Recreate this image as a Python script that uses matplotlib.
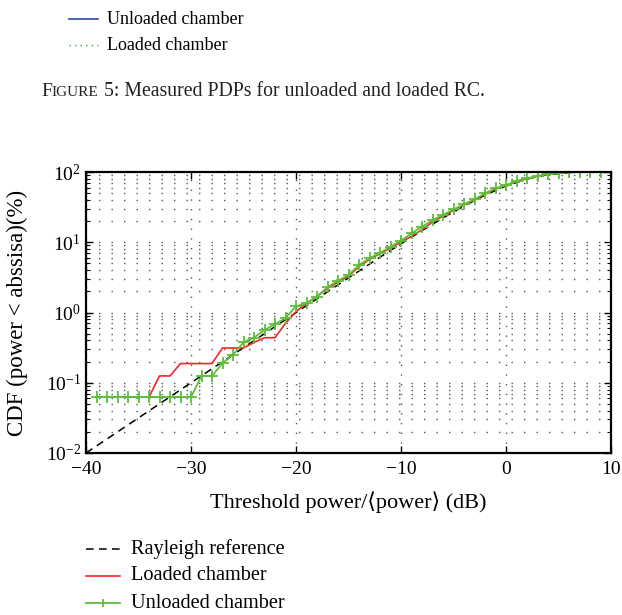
import numpy as np
import matplotlib
matplotlib.use('Agg')
import matplotlib.pyplot as plt
from matplotlib.lines import Line2D
from matplotlib.ticker import LogLocator, NullFormatter

plt.rcParams['font.family'] = ['Liberation Serif', 'DejaVu Serif']
plt.rcParams['mathtext.fontset'] = 'stix'

# threshold power (dB), 1 dB steps for the measured curves
x_meas = list(range(-39, 10))

# measured CDF (%)
unloaded = [0.0625] * 10 + [
    0.125, 0.125, 0.19, 0.25, 0.375, 0.44, 0.56, 0.68, 0.83, 1.23,
    1.35, 1.68, 2.3, 2.83, 3.41, 4.73, 5.9, 7.08, 8.6, 10.5,
    13.4, 16.6, 20.7, 24.4, 29.4, 34.7, 40.8, 49.7, 58.6, 65.3,
    74.5, 81.3, 87.7, 93.7, 97.7, 100, 100, 100, 100]
loaded = [0.0625] * 6 + [
    0.125, 0.125, 0.1875, 0.1875, 0.1875, 0.1875, 0.3125, 0.3125, 0.3125, 0.375,
    0.4375, 0.4375, 0.70, 1.03, 1.35, 1.7, 2.2, 2.7, 3.3, 4.5,
    5.7, 6.9, 8.3, 10.0, 12.2, 15.0, 19.5, 23.5, 28.5, 34.0,
    40.0, 48.5, 57.0, 64.5, 73.0, 80.0, 87.0, 93.0, 97.5, 99.5,
    100, 100, 100]

# Rayleigh reference (%)
x_ray = [-40, -30, -20, -16, -14, -12, -10, -8, -6, -4, -2, 0, 2, 4, 6, 8, 10]
rayleigh = [0.01, 0.0999, 0.995, 2.48, 3.90, 6.12, 9.52, 14.66, 22.2, 32.8,
            46.8, 63.2, 79.5, 91.9, 98.1, 99.8, 99.995]

fig = plt.figure(figsize=(6.22, 6.15), dpi=100)
ax = fig.add_axes([86/622, 1 - 453/615, (611-86)/622, (453-172)/615])

ax.plot(x_ray, rayleigh, color='black', lw=1.1, dashes=(5, 3.5))
ax.plot(x_meas, loaded, color='#ff2020', lw=1.2)
ax.plot(x_meas, unloaded, color='#5cbf3a', lw=1.3, marker='+', ms=9, mew=1.3)

ax.set_yscale('log')
ax.set_xlim(-40, 10)
ax.set_ylim(1e-2, 1e2)
ax.set_xticks([-40, -30, -20, -10, 0, 10])
ax.yaxis.set_major_locator(LogLocator(base=10))
ax.yaxis.set_minor_locator(LogLocator(base=10, subs=np.arange(2, 10)))
ax.yaxis.set_minor_formatter(NullFormatter())

ax.yaxis.grid(True, which='both', color='#555555', lw=1.0, linestyle=(0, (1, 8)))
ax.xaxis.grid(True, which='major', color='#555555', lw=1.0, linestyle=(0, (1, 6)))

ax.tick_params(which='both', direction='in', top=True, right=True, labelsize=14)
ax.tick_params(which='major', length=5, width=1)
ax.tick_params(axis='x', pad=6)
ax.tick_params(which='minor', length=3, width=0.8)
for s in ax.spines.values():
    s.set_linewidth(1.6)

ax.set_xlabel('Threshold power/\u27e8power\u27e9 (dB)', fontsize=16)
ax.set_ylabel('CDF (power < abssisa)(%)', fontsize=16.5)
ax.xaxis.set_label_coords(0.499, -(502 - 453) / 281)
ax.yaxis.set_label_coords((17 - 86) / 525, 0.5)
ax.xaxis.label.set_va('center')
ax.yaxis.label.set_va('center')

# legend of the previous figure and caption (top of the page)
def legend_row(y, x0, x1, **kw):
    fig.add_artist(Line2D([x0 / 622, x1 / 622], [1 - y / 615, 1 - y / 615], **kw))

top_x0, top_x1, top_tx = 69, 98, 107
legend_row(19, top_x0, top_x1, color='#2b46a8', lw=1.2)
fig.text(top_tx / 622, 1 - 19 / 615, 'Unloaded chamber', fontsize=13, va='center')
legend_row(45, top_x0, top_x1, color='#3aa04a', lw=1.0, linestyle=(0, (1, 3)))
fig.text(top_tx / 622, 1 - 45 / 615, 'Loaded chamber', fontsize=13, va='center')

cap = fig.text(41 / 622, 1 - 92 / 615, 'F', fontsize=14, va='center', color='#222222')
fig.canvas.draw()
bb = cap.get_window_extent()
cap2 = fig.text(bb.x1 / 622, 1 - 92 / 615, 'IGURE', fontsize=11, va='center', color='#222222')
fig.canvas.draw()
bb2 = cap2.get_window_extent()
fig.text(bb2.x1 / 622, 1 - 92 / 615, ' 5: Measured PDPs for unloaded and loaded RC.',
         fontsize=14.2, va='center', color='#222222')

# legend of this figure (below the axes)
bot_x0, bot_x1, bot_tx = 86, 120, 131
legend_row(549, bot_x0, bot_x1, color='black', lw=1.1, dashes=(5, 3.5))
fig.text(bot_tx / 622, 1 - 549 / 615, 'Rayleigh reference', fontsize=14.6, va='center')
legend_row(576, bot_x0, bot_x1, color='#ff2020', lw=1.2)
fig.text(bot_tx / 622, 1 - 576 / 615, 'Loaded chamber', fontsize=14.6, va='center')
legend_row(603, bot_x0, bot_x1, color='#5cbf3a', lw=1.3)
fig.add_artist(Line2D([(bot_x0 + bot_x1) / 2 / 622], [1 - 603 / 615], color='#5cbf3a',
                      marker='|', ms=6, mew=1.3))
fig.text(bot_tx / 622, 1 - 603 / 615, 'Unloaded chamber', fontsize=14.6, va='center')

fig.savefig('out.png', dpi=100)
